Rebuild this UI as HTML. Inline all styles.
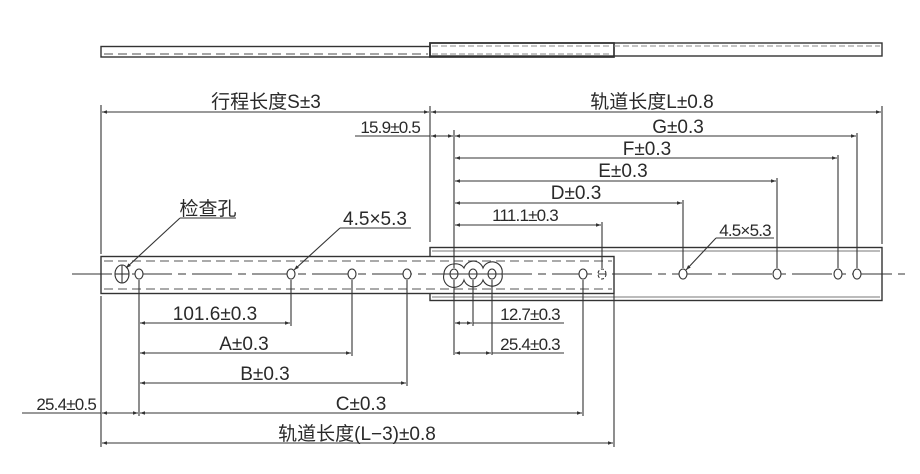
<!DOCTYPE html>
<html><head><meta charset="utf-8"><style>
html,body{margin:0;padding:0;background:#fff;}
svg{display:block;}
text{font-family:"Liberation Sans","Noto Sans CJK SC",sans-serif;fill:#2a2a2a;font-size:19px;}
.s{font-size:17px;letter-spacing:-0.8px;}
</style></head><body>
<svg width="920" height="474" viewBox="0 0 920 474" xmlns="http://www.w3.org/2000/svg">
<defs>
<marker id="a" viewBox="0 0 10 10" refX="10" refY="5" markerWidth="8" markerHeight="5" orient="auto-start-reverse" markerUnits="userSpaceOnUse"><path d="M0,1.5L10,5L0,8.5z" fill="#333"/></marker>
</defs>
<g stroke="#333" fill="none" stroke-width="1.1">
<rect x="101" y="46.5" width="329" height="10.5" stroke-width="1.4"/>
<line x1="104" y1="54" x2="428" y2="54" stroke="#888" stroke-dasharray="9,5" stroke-width="1.5"/>
<rect x="430" y="43" width="452" height="13" stroke-width="1.4"/>
<rect x="430" y="43" width="184" height="14" stroke-width="1.7"/>
<line x1="432" y1="46" x2="612" y2="46" stroke="#888" stroke-dasharray="6,3"/>
<line x1="432" y1="54" x2="612" y2="54" stroke="#888" stroke-dasharray="6,3"/>
<line x1="614" y1="46" x2="880" y2="46" stroke="#888" stroke-dasharray="6,3"/>

<rect x="430" y="247.5" width="452" height="53" stroke-width="1.4"/>
<line x1="432" y1="251" x2="880" y2="251" stroke="#777"/>
<line x1="432" y1="297" x2="880" y2="297" stroke="#777"/>
<rect x="101" y="256.5" width="513" height="37" fill="#fff" stroke-width="1.4"/>
<line x1="104" y1="261" x2="612" y2="261" stroke="#777" stroke-dasharray="9,5" stroke-width="1.3"/>
<line x1="104" y1="289" x2="612" y2="289" stroke="#777" stroke-dasharray="9,5" stroke-width="1.3"/>
<line x1="72" y1="274" x2="905" y2="274" stroke-dasharray="40,6,8,6" stroke-width="1"/>

<ellipse cx="122" cy="274" rx="7" ry="9"/><line x1="115" y1="274" x2="129" y2="274"/><line x1="122" y1="265" x2="122" y2="283"/>
<g fill="#fff">
<ellipse cx="139" cy="274" rx="4" ry="5"/><ellipse cx="291" cy="274" rx="4" ry="5"/><ellipse cx="352" cy="274" rx="4" ry="5"/><ellipse cx="407" cy="274" rx="4" ry="5"/><ellipse cx="583" cy="274" rx="4" ry="5"/>
<ellipse cx="683" cy="274" rx="4" ry="5"/><ellipse cx="777" cy="274" rx="4" ry="5"/><ellipse cx="838" cy="274" rx="4" ry="5"/><ellipse cx="857" cy="274" rx="4" ry="5"/>
</g>
<ellipse cx="602" cy="274" rx="4" ry="5" stroke-dasharray="3,2"/>
<path d="M454,264 A10,10 0 0 1 464,268 A10,10 0 0 1 483,268 A10,10 0 0 1 502,274 A10,10 0 0 1 483,280 A10,10 0 0 1 464,280 A10,10 0 0 1 444,274 A10,10 0 0 1 454,264z" fill="#fff"/>
<ellipse cx="454" cy="274" rx="4" ry="5"/><ellipse cx="473" cy="274" rx="4" ry="5"/><ellipse cx="492" cy="274" rx="4" ry="5"/>
<line x1="440" y1="274" x2="506" y2="274"/>

<line x1="101" y1="105" x2="101" y2="254"/>
<line x1="101" y1="296" x2="101" y2="447"/>
<line x1="430" y1="106" x2="430" y2="242"/>
<line x1="882" y1="106" x2="882" y2="244"/>
<line x1="454" y1="130" x2="454" y2="268"/>
<line x1="857" y1="133" x2="857" y2="268"/>
<line x1="838" y1="155" x2="838" y2="268"/>
<line x1="777" y1="178" x2="777" y2="268"/>
<line x1="683" y1="200" x2="683" y2="268"/>
<line x1="602" y1="222" x2="602" y2="268"/>
<line x1="139" y1="280" x2="139" y2="416"/>
<line x1="291" y1="280" x2="291" y2="326"/>
<line x1="352" y1="280" x2="352" y2="356"/>
<line x1="407" y1="280" x2="407" y2="386"/>
<line x1="583" y1="280" x2="583" y2="416"/>
<line x1="614" y1="294" x2="614" y2="447"/>
<line x1="454" y1="280" x2="454" y2="355"/>
<line x1="473" y1="280" x2="473" y2="326"/>
<line x1="492" y1="280" x2="492" y2="355"/>

<g marker-start="url(#a)" marker-end="url(#a)">
<line x1="102" y1="112" x2="429" y2="112"/>
<line x1="431" y1="112" x2="881" y2="112"/>
<line x1="455" y1="136" x2="856" y2="136"/>
<line x1="455" y1="158" x2="837" y2="158"/>
<line x1="455" y1="181" x2="776" y2="181"/>
<line x1="455" y1="203" x2="682" y2="203"/>
<line x1="455" y1="225" x2="601" y2="225"/>
<line x1="140" y1="323" x2="290" y2="323"/>
<line x1="140" y1="353" x2="351" y2="353"/>
<line x1="140" y1="383" x2="406" y2="383"/>
<line x1="140" y1="413" x2="582" y2="413"/>
<line x1="102" y1="413" x2="138" y2="413"/>
<line x1="102" y1="443" x2="613" y2="443"/>
<line x1="431" y1="136" x2="453" y2="136"/>
<line x1="455" y1="323" x2="472" y2="323"/>
<line x1="455" y1="353" x2="491" y2="353"/>
</g>
<line x1="355" y1="136" x2="430" y2="136"/>
<line x1="22" y1="413" x2="101" y2="413"/>
<line x1="473" y1="323" x2="564" y2="323"/>
<line x1="492" y1="353" x2="564" y2="353"/>

<line x1="180" y1="218" x2="236" y2="218"/>
<line x1="180" y1="218" x2="126" y2="268" marker-end="url(#a)"/>
<line x1="340" y1="228" x2="411" y2="228"/>
<line x1="340" y1="228" x2="294" y2="270" marker-end="url(#a)"/>
<line x1="716" y1="238" x2="774" y2="238"/>
<line x1="716" y1="238" x2="686" y2="270" marker-end="url(#a)"/>
</g>

<text x="266" y="108" text-anchor="middle">行程长度S±3</text>
<text x="652" y="108" text-anchor="middle">轨道长度L±0.8</text>
<text x="420" y="133" text-anchor="end" class="s">15.9±0.5</text>
<text x="678" y="133" text-anchor="middle">G±0.3</text>
<text x="647" y="155" text-anchor="middle">F±0.3</text>
<text x="623" y="177" text-anchor="middle">E±0.3</text>
<text x="576" y="199" text-anchor="middle">D±0.3</text>
<text x="525" y="221" text-anchor="middle" class="s">111.1±0.3</text>
<text x="208" y="215" text-anchor="middle">检查孔</text>
<text x="375" y="225" text-anchor="middle">4.5×5.3</text>
<text x="745" y="236" text-anchor="middle" class="s">4.5×5.3</text>
<text x="215" y="320" text-anchor="middle">101.6±0.3</text>
<text x="244" y="350" text-anchor="middle">A±0.3</text>
<text x="265" y="380" text-anchor="middle">B±0.3</text>
<text x="361" y="410" text-anchor="middle">C±0.3</text>
<text x="96" y="410" text-anchor="end" class="s">25.4±0.5</text>
<text x="357" y="440" text-anchor="middle">轨道长度(L−3)±0.8</text>
<text x="530" y="320" text-anchor="middle" class="s">12.7±0.3</text>
<text x="530" y="350" text-anchor="middle" class="s">25.4±0.3</text>
</svg>
</body></html>
